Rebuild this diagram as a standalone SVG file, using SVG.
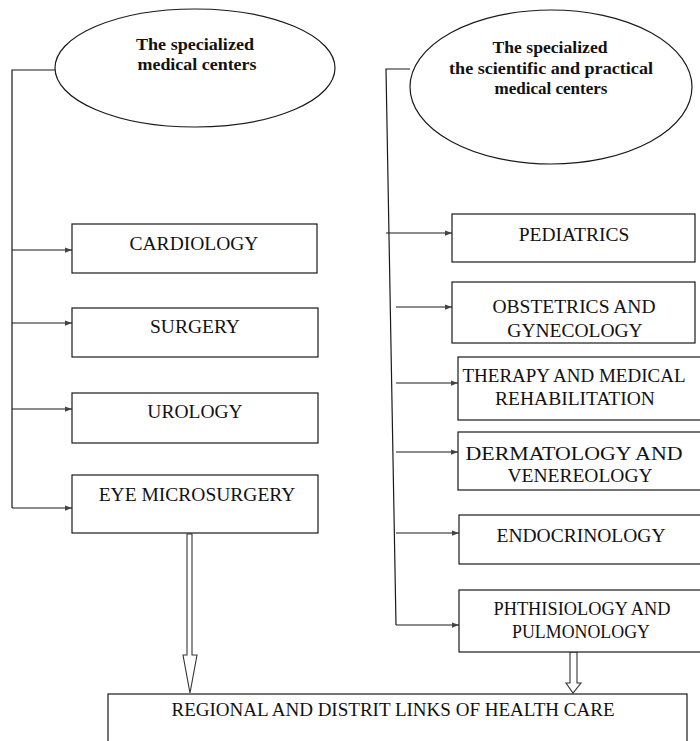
<svg xmlns="http://www.w3.org/2000/svg" width="700" height="741" viewBox="0 0 700 741">
<defs>
<style>
.bg{fill:#ffffff}
.box{fill:#ffffff;stroke:#1a1a1a;stroke-width:1.2}
.ell{fill:#ffffff;stroke:#1a1a1a;stroke-width:1.2}
.t{font-family:"Liberation Serif","Times New Roman",serif;font-size:19.5px;fill:#111;text-anchor:middle}
.tb{font-family:"Liberation Serif","Times New Roman",serif;font-size:17.5px;font-weight:bold;fill:#111;text-anchor:middle}
.ln{fill:none;stroke:#1a1a1a;stroke-width:1.2}
.hollow{fill:#ffffff;stroke:#333;stroke-width:1.1}
</style>
<marker id="ah" viewBox="0 0 8 8" refX="8" refY="4" markerWidth="7" markerHeight="7" markerUnits="userSpaceOnUse" orient="auto">
<path d="M0,1 L8,4 L0,7 Z" fill="#444"/>
</marker>
</defs>
<rect class="bg" x="0" y="0" width="700" height="741"/>

<g id="connectors">
<polyline class="ln" points="55,70 12,70 12,508"/>
<line class="ln" x1="12" y1="250" x2="72" y2="250" marker-end="url(#ah)"/>
<line class="ln" x1="12" y1="323" x2="72" y2="323" marker-end="url(#ah)"/>
<line class="ln" x1="12" y1="409" x2="72" y2="409" marker-end="url(#ah)"/>
<line class="ln" x1="12" y1="508" x2="72" y2="508" marker-end="url(#ah)"/>
<polyline class="ln" points="410,69 386,69 396,625"/>
<line class="ln" x1="386" y1="233" x2="452" y2="233" marker-end="url(#ah)"/>
<line class="ln" x1="396" y1="307" x2="452" y2="307" marker-end="url(#ah)"/>
<line class="ln" x1="396" y1="383" x2="458" y2="383" marker-end="url(#ah)"/>
<line class="ln" x1="396" y1="452" x2="458" y2="452" marker-end="url(#ah)"/>
<line class="ln" x1="396" y1="533" x2="459" y2="533" marker-end="url(#ah)"/>
<line class="ln" x1="396" y1="625" x2="459" y2="625" marker-end="url(#ah)"/>
<polygon class="hollow" points="187,534 192,534 192,655 197,655 190,693 183,655 187,655"/>
<polygon class="hollow" points="570,652 577,652 577,683 581,683 573,693 566,683 570,683"/>
</g>

<g id="ellipse-left">
<ellipse class="ell" cx="195" cy="68" rx="140" ry="59"/>
<text class="tb" x="195" y="50" textLength="118" lengthAdjust="spacingAndGlyphs">The specialized</text>
<text class="tb" x="197" y="70" textLength="119" lengthAdjust="spacingAndGlyphs">medical centers</text>
</g>

<g id="ellipse-right">
<ellipse class="ell" cx="551" cy="87" rx="141" ry="77"/>
<text class="tb" x="550" y="53" textLength="115" lengthAdjust="spacingAndGlyphs">The specialized</text>
<text class="tb" x="551" y="74" textLength="204" lengthAdjust="spacingAndGlyphs">the scientific and practical</text>
<text class="tb" x="551" y="94" textLength="113" lengthAdjust="spacingAndGlyphs">medical centers</text>
</g>

<g id="cardiology">
<rect class="box" x="72" y="224" width="245" height="49"/>
<text class="t" x="194" y="250">CARDIOLOGY</text>
</g>
<g id="surgery">
<rect class="box" x="72" y="308" width="246" height="49"/>
<text class="t" x="195" y="333">SURGERY</text>
</g>
<g id="urology">
<rect class="box" x="72" y="393" width="246" height="50"/>
<text class="t" x="195" y="418">UROLOGY</text>
</g>
<g id="eye-microsurgery">
<rect class="box" x="72" y="475" width="246" height="58"/>
<text class="t" x="197" y="501">EYE MICROSURGERY</text>
</g>

<g id="pediatrics">
<rect class="box" x="452" y="214" width="243" height="48"/>
<text class="t" x="574" y="241">PEDIATRICS</text>
</g>
<g id="obstetrics">
<rect class="box" x="452" y="282" width="243" height="61"/>
<text class="t" x="574" y="313">OBSTETRICS AND</text>
<text class="t" x="575" y="337">GYNECOLOGY</text>
</g>
<g id="therapy">
<rect class="box" x="458" y="357" width="250" height="63"/>
<text class="t" x="574" y="382" textLength="223" lengthAdjust="spacingAndGlyphs">THERAPY AND MEDICAL</text>
<text class="t" x="575" y="405">REHABILITATION</text>
</g>
<g id="dermatology">
<rect class="box" x="458" y="432" width="250" height="58"/>
<text class="t" x="574" y="460" textLength="217" lengthAdjust="spacingAndGlyphs">DERMATOLOGY AND</text>
<text class="t" x="580" y="482">VENEREOLOGY</text>
</g>
<g id="endocrinology">
<rect class="box" x="459" y="515" width="250" height="49"/>
<text class="t" x="581" y="542">ENDOCRINOLOGY</text>
</g>
<g id="phthisiology">
<rect class="box" x="459" y="590" width="250" height="62"/>
<text class="t" x="582" y="615" textLength="177" lengthAdjust="spacingAndGlyphs">PHTHISIOLOGY AND</text>
<text class="t" x="581" y="638" textLength="138" lengthAdjust="spacingAndGlyphs">PULMONOLOGY</text>
</g>

<g id="regional">
<rect class="box" x="108" y="694" width="579" height="60"/>
<text class="t" x="393" y="716" style="font-size:18.5px" textLength="443" lengthAdjust="spacingAndGlyphs">REGIONAL AND DISTRIT LINKS OF HEALTH CARE</text>
</g>
</svg>
